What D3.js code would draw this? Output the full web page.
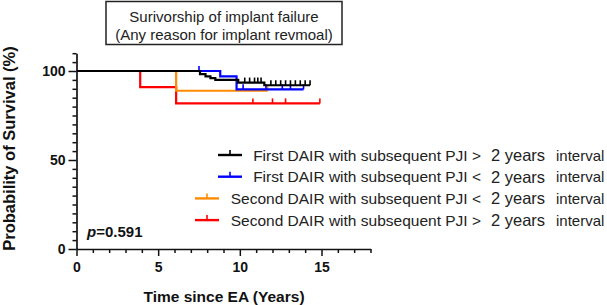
<!DOCTYPE html>
<html>
<head>
<meta charset="utf-8">
<script src="https://cdn.jsdelivr.net/npm/d3@7"></script>
<style>
  body { margin: 0; background: #fff; }
  svg { display: block; font-family: "Liberation Sans", Arial, Helvetica, sans-serif; }
</style>
</head>
<body>
<svg id="chart" width="607" height="305"></svg>
<script>
// ---- data ----
const seriesNames = [
  "First DAIR with subsequent PJI >",
  "First DAIR with subsequent PJI <",
  "Second DAIR with subsequent PJI <",
  "Second DAIR with subsequent PJI >"
];
const seriesColors = ["#000000", "#0000ff", "#ff8c00", "#ff0000"];

const blackEventTimes = [7.56, 7.9, 8.2, 8.5, 9.9, 11.5];
const blackSurvival   = [98.3, 97.0, 96.0, 95.0, 93.5, 92.0];
const blackCensor     = [10.3, 10.6, 10.9, 11.1, 11.3, 11.9, 12.2, 12.5, 12.8, 13.1, 13.4, 13.7, 14.0, 14.3];
const blackEnd        = 14.3;

const blueEventTimes = [8.8, 9.8];
const blueSurvival   = [97.0, 89.7];
const blueCensor     = [7.5, 10.2, 11.6, 12.6, 13.1, 13.9];
const blueEnd        = 13.9;

const orangeEventTimes = [6.1];
const orangeSurvival   = [88.9];
const orangeCensor     = [11.7];
const orangeEnd        = 11.7;

const redEventTimes = [3.9, 6.1];
const redSurvival   = [90.9, 81.8];
const redCensor     = [10.8, 12.0, 12.8, 14.9];
const redEnd        = 14.9;

const xTickLabels = [0, 5, 10, 15];
const yTickLabels = [0, 50, 100];
const titleLines = ["Surivorship of implant failure", "(Any reason for implant revmoal)"];
const pValueText = "=0.591";

// ---- layout ----
const svg = d3.select("#chart");
const x = d3.scaleLinear().domain([0, 18]).range([76.5, 370.5]);
const y = d3.scaleLinear().domain([0, 110]).range([249, 249 - 110 * 1.78]);

function buildSteps(times, surv, end) {
  const pts = [[0, 100]];
  let s = 100;
  times.forEach((t, i) => { pts.push([t, s]); s = surv[i]; pts.push([t, s]); });
  pts.push([end, s]);
  return pts;
}
function survAt(times, surv, t) {
  let s = 100;
  times.forEach((tt, i) => { if (tt <= t) s = surv[i]; });
  return s;
}

const series = [
  { name: seriesNames[3], color: seriesColors[3], times: redEventTimes, surv: redSurvival, cens: redCensor, end: redEnd },
  { name: seriesNames[2], color: seriesColors[2], times: orangeEventTimes, surv: orangeSurvival, cens: orangeCensor, end: orangeEnd },
  { name: seriesNames[1], color: seriesColors[1], times: blueEventTimes, surv: blueSurvival, cens: blueCensor, end: blueEnd },
  { name: seriesNames[0], color: seriesColors[0], times: blackEventTimes, surv: blackSurvival, cens: blackCensor, end: blackEnd }
];

// ---- axes ----
const yAxis = d3.axisLeft(y).tickValues(d3.range(0, 111, 5)).tickSizeInner(8).tickSizeOuter(0).tickPadding(3)
  .tickFormat(d => yTickLabels.includes(d) ? d : "");
const gy = svg.append("g").attr("transform", `translate(${x(0)},0)`).call(yAxis);
gy.selectAll(".tick line").attr("x2", d => yTickLabels.includes(d) ? -8 : -4);

const xAxis = d3.axisBottom(x).tickValues(d3.range(0, 19, 1)).tickSizeInner(7).tickSizeOuter(0).tickPadding(6)
  .tickFormat(d => xTickLabels.includes(d) ? d : "");
const gx = svg.append("g").attr("transform", `translate(0,${y(0)})`).call(xAxis);
gx.selectAll(".tick line").attr("y2", d => xTickLabels.includes(d) ? 7 : 4);

[gx, gy].forEach(g => {
  g.select(".domain").attr("stroke", "#111").attr("stroke-width", 1.7);
  g.selectAll(".tick line").attr("stroke", "#111").attr("stroke-width", 1.5);
  g.selectAll(".tick text").attr("fill", "#111").attr("font-size", 14).attr("font-weight", "bold")
    .attr("font-family", "Liberation Sans, Arial, sans-serif");
});

// axis titles
svg.append("text").attr("x", 224).attr("y", 302).attr("text-anchor", "middle")
  .attr("font-size", 15.5).attr("font-weight", "bold").attr("fill", "#111")
  .text("Time since EA (Years)");
svg.append("text").attr("transform", "translate(15,148.5) rotate(-90)").attr("text-anchor", "middle")
  .attr("font-size", 16.5).attr("font-weight", "bold").attr("fill", "#111")
  .text("Probability of Survival (%)");

// ---- curves ----
const line = d3.line().x(d => x(d[0])).y(d => y(d[1]));
series.forEach(s => {
  svg.append("path").datum(buildSteps(s.times, s.surv, s.end))
    .attr("d", line).attr("fill", "none").attr("stroke", s.color).attr("stroke-width", 2.2);
  svg.selectAll(null).data(s.cens).enter().append("line")
    .attr("x1", d => x(d)).attr("x2", d => x(d))
    .attr("y1", d => y(survAt(s.times, s.surv, d)))
    .attr("y2", d => y(survAt(s.times, s.surv, d)) - 5)
    .attr("stroke", s.color).attr("stroke-width", 1.6);
});

// ---- title box ----
svg.append("rect").attr("x", 106).attr("y", 1.5).attr("width", 236).attr("height", 43)
  .attr("fill", "#fff").attr("stroke", "#222").attr("stroke-width", 1.5);
titleLines.forEach((t, i) => {
  svg.append("text").attr("x", 224).attr("y", 22 + i * 18).attr("text-anchor", "middle")
    .attr("font-size", 15).attr("fill", "#222").text(t);
});

// ---- p value ----
const pt = svg.append("text").attr("x", 87).attr("y", 237).attr("font-size", 15)
  .attr("font-weight", "bold").attr("fill", "#111");
pt.append("tspan").attr("font-style", "italic").text("p");
pt.append("tspan").text(pValueText);

// ---- legend ----
seriesNames.forEach((name, i) => {
  const cy = 155 + i * 21.7;
  const short = i < 2;
  const x1 = short ? 218 : 195, x2 = short ? 242 : 219;
  const c = seriesColors[i];
  svg.append("line").attr("x1", x1).attr("x2", x2).attr("y1", cy).attr("y2", cy)
    .attr("stroke", c).attr("stroke-width", 2.4);
  svg.append("line").attr("x1", (x1 + x2) / 2).attr("x2", (x1 + x2) / 2).attr("y1", cy).attr("y2", cy - 5)
    .attr("stroke", c).attr("stroke-width", 1.6);
  svg.append("text").attr("x", 481).attr("y", cy + 5.5).attr("text-anchor", "end")
    .attr("font-size", 15.5).attr("fill", "#222").text(name);
  svg.append("text").attr("x", 491).attr("y", cy + 6)
    .attr("font-size", 16.5).attr("fill", "#222").text("2 years");
  svg.append("text").attr("x", 556).attr("y", cy + 5.5)
    .attr("font-size", 15).attr("fill", "#222").text("interval");
});
</script>
</body>
</html>
